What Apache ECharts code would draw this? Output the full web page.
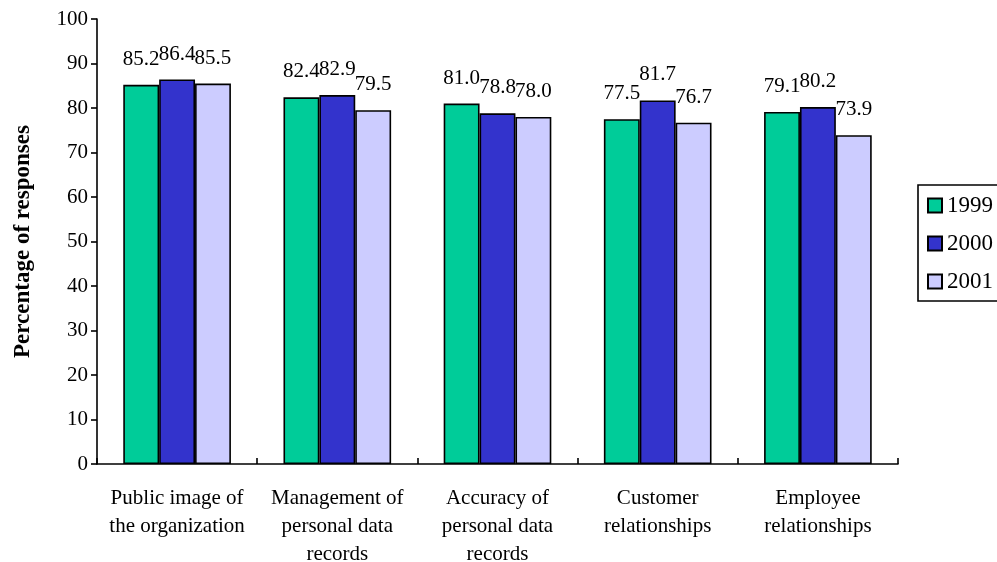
<!DOCTYPE html>
<html>
<head>
<meta charset="utf-8">
<script src="https://cdn.jsdelivr.net/npm/echarts@6/dist/echarts.min.js"></script>
<style>
  html, body { margin: 0; padding: 0; background: #fff; }
  #chart { width: 997px; height: 562px; }
</style>
</head>
<body>
<div id="chart"></div>
<script>
// Categories and survey values (percentage of responses)
const categories = [
  'Public image of\nthe organization',
  'Management of\npersonal data\nrecords',
  'Accuracy of\npersonal data\nrecords',
  'Customer\nrelationships',
  'Employee\nrelationships'
];
const years = ['1999', '2000', '2001'];
const values1999 = [85.2, 82.4, 81.0, 77.5, 79.1];
const values2000 = [86.4, 82.9, 78.8, 81.7, 80.2];
const values2001 = [85.5, 79.5, 78.0, 76.7, 73.9];
const yTicks = { min: 0, max: 100, interval: 10 };

const colors = ['#00CC99', '#3333CC', '#CCCCFF'];
const font = '"Liberation Serif", "Times New Roman", serif';

function barSeries(name, data, color) {
  return {
    name: name,
    type: 'bar',
    data: data,
    barWidth: '22.4%',
    barGap: '0%',
    itemStyle: { color: color, borderColor: '#000', borderWidth: 1.6 },
    label: {
      show: true,
      position: 'top',
      distance: 15,
      fontFamily: font,
      fontSize: 21,
      color: '#000',
      formatter: p => p.value.toFixed(1)
    }
  };
}

const chart = echarts.init(document.getElementById('chart'), null, { renderer: 'canvas' });
chart.setOption({
  animation: false,
  backgroundColor: '#fff',
  textStyle: { fontFamily: font, color: '#000' },
  grid: { left: 97, right: 99, top: 19, bottom: 98, containLabel: false, outerBoundsMode: 'none' },
  legend: {
    orient: 'vertical',
    left: 918,
    top: 185,
    data: years,
    icon: 'rect',
    itemWidth: 14,
    itemHeight: 14,
    itemGap: 15,
    padding: [9, 10, 8, 9],
    borderColor: '#000',
    borderWidth: 1.6,
    textStyle: { fontFamily: font, fontSize: 23, color: '#000', padding: [0, 0, 0, 0] }
  },
  xAxis: {
    type: 'category',
    data: categories,
    axisLine: { lineStyle: { color: '#000', width: 1.6 } },
    axisTick: { show: true, inside: true, length: 6, lineStyle: { color: '#000', width: 1.6 } },
    axisLabel: {
      fontFamily: font,
      fontSize: 21,
      color: '#000',
      lineHeight: 28,
      margin: 20,
      interval: 0
    },
    splitLine: { show: false }
  },
  yAxis: {
    type: 'value',
    min: yTicks.min,
    max: yTicks.max,
    interval: yTicks.interval,
    name: 'Percentage of responses',
    nameLocation: 'middle',
    nameGap: 62,
    nameTextStyle: { fontFamily: font, fontSize: 23, fontWeight: 'bold', color: '#000' },
    axisLine: { show: true, lineStyle: { color: '#000', width: 1.6 } },
    axisTick: { show: true, length: 6, lineStyle: { color: '#000', width: 1.6 } },
    axisLabel: { fontFamily: font, fontSize: 21, color: '#000', margin: 9 },
    splitLine: { show: false }
  },
  series: [
    barSeries(years[0], values1999, colors[0]),
    barSeries(years[1], values2000, colors[1]),
    barSeries(years[2], values2001, colors[2])
  ]
});
</script>
</body>
</html>
